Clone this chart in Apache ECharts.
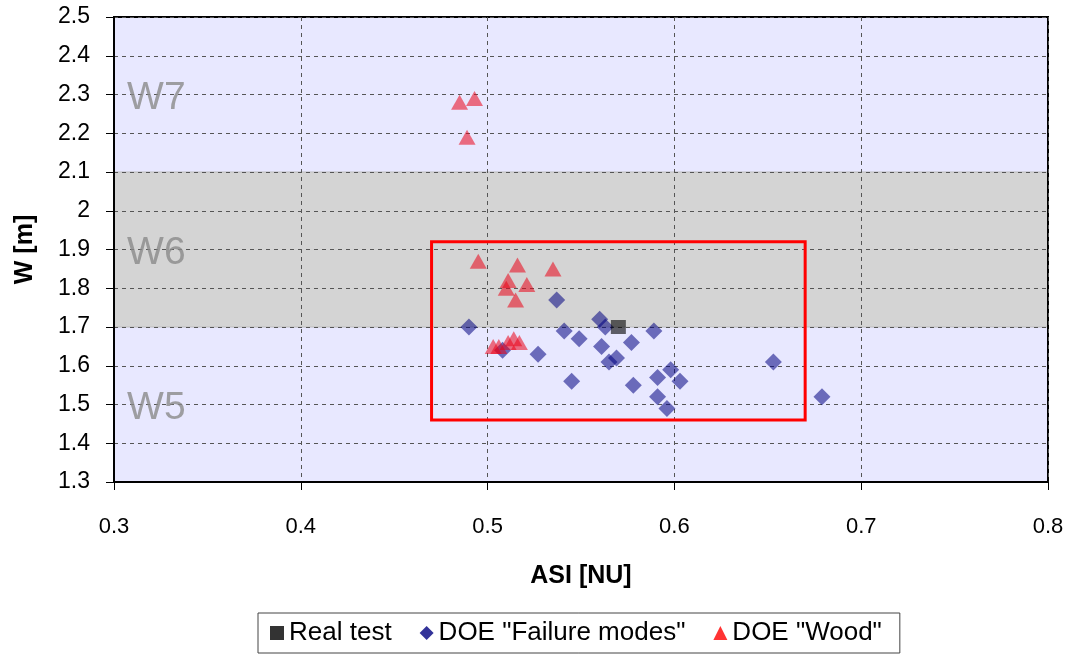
<!DOCTYPE html>
<html>
<head>
<meta charset="utf-8">
<script src="https://cdn.jsdelivr.net/npm/echarts@6/dist/echarts.min.js"></script>
<style>
html,body{margin:0;padding:0;background:#fff;}
#chart{width:1073px;height:656px;}
</style>
</head>
<body>
<div id="chart"></div>
<script>
// ---- Data ----
const realTestX = [0.570];
const realTestY = [1.70];

const failureX = [0.490, 0.508, 0.527, 0.537, 0.541, 0.545, 0.549, 0.560, 0.561, 0.563, 0.565, 0.569, 0.577, 0.578, 0.589, 0.591, 0.591, 0.596, 0.598, 0.603, 0.653, 0.679];
const failureY = [1.70, 1.64, 1.63, 1.77, 1.69, 1.56, 1.67, 1.72, 1.65, 1.70, 1.61, 1.62, 1.66, 1.55, 1.69, 1.57, 1.52, 1.49, 1.59, 1.56, 1.61, 1.52];

const woodX = [0.485, 0.493, 0.489, 0.495, 0.516, 0.535, 0.511, 0.521, 0.510, 0.515, 0.503, 0.506, 0.511, 0.514, 0.517];
const woodY = [2.28, 2.29, 2.19, 1.87, 1.86, 1.85, 1.82, 1.81, 1.80, 1.77, 1.65, 1.65, 1.66, 1.67, 1.66];

const seriesNames = ['Real test', 'DOE "Failure modes"', 'DOE "Wood"'];

const zoneNames = ['W7', 'W6', 'W5'];
const zoneCenters = [2.3, 1.9, 1.5];
const zoneLabelX = 0.307;
const grayBand = [1.7, 2.1];
const focusBox = { x: [0.47, 0.67], y: [1.46, 1.92] };

const xTicks = { min: 0.3, max: 0.8, interval: 0.1 };
const yTicks = { min: 1.3, max: 2.5, interval: 0.1 };

function pairs(xs, ys) { return xs.map((x, i) => [x, ys[i]]); }

const FONT = 'Liberation Sans, Arial, sans-serif';

const chart = echarts.init(document.getElementById('chart'), null, { renderer: 'canvas' });

chart.setOption({
  animation: false,
  backgroundColor: '#ffffff',
  grid: {
    left: 114, right: 25, top: 17, bottom: 174,
    show: true, borderColor: '#000', borderWidth: 2, backgroundColor: 'transparent'
  },
  xAxis: {
    type: 'value', min: xTicks.min, max: xTicks.max, interval: xTicks.interval,
    name: 'ASI [NU]', nameLocation: 'middle', nameGap: 82,
    nameTextStyle: { fontFamily: FONT, fontSize: 25, fontWeight: 'bold', color: '#000' },
    axisLine: { show: true, lineStyle: { color: '#000', width: 2 } },
    axisTick: { show: true, length: 8, inside: false, lineStyle: { color: '#000', width: 1 } },
    axisLabel: { margin: 34, fontFamily: FONT, fontSize: 22, color: '#000' },
    splitLine: { show: true, lineStyle: { color: '#555', type: [4, 4], width: 1 } }
  },
  yAxis: {
    type: 'value', min: yTicks.min, max: yTicks.max, interval: yTicks.interval,
    name: 'W [m]', nameLocation: 'middle', nameGap: 76, nameRotate: 90,
    nameTextStyle: { fontFamily: FONT, fontSize: 25, fontWeight: 'bold', color: '#000' },
    axisLine: { show: true, lineStyle: { color: '#000', width: 2 } },
    axisTick: { show: true, length: 8, inside: false, lineStyle: { color: '#000', width: 1 } },
    axisLabel: { margin: 24, fontFamily: FONT, fontSize: 23, color: '#000' },
    splitLine: { show: true, lineStyle: { color: '#555', type: [4, 4], width: 1 } }
  },
  legend: {
    data: [
      { name: seriesNames[0], icon: 'rect', itemStyle: { color: '#000' } },
      { name: seriesNames[1], icon: 'diamond', itemStyle: { color: '#000080' } },
      { name: seriesNames[2], icon: 'triangle', itemStyle: { color: '#ff0000' } }
    ],
    left: 258, top: 613,
    orient: 'horizontal',
    itemWidth: 14, itemHeight: 14, itemGap: 28,
    padding: [7, 18, 7, 12],
    borderColor: '#444', borderWidth: 1, backgroundColor: '#fff',
    textStyle: { fontFamily: FONT, fontSize: 26, color: '#000' }
  },
  series: [
    {
      name: 'background', type: 'scatter', data: [], z: -1, silent: true,
      markArea: {
        silent: true, z: -1,
        data: [
          [{ xAxis: xTicks.min, yAxis: yTicks.min, itemStyle: { color: '#E8E8FF', borderColor: '#c8c8d4', borderWidth: 1 } },
           { xAxis: xTicks.max, yAxis: yTicks.max }],
          [{ xAxis: xTicks.min, yAxis: grayBand[0], itemStyle: { color: '#D4D4D4', borderColor: '#bdbdbd', borderWidth: 1 } },
           { xAxis: xTicks.max, yAxis: grayBand[1] }]
        ]
      }
    },
    {
      name: 'zones', type: 'scatter', symbolSize: 0, silent: true, z: 1,
      data: zoneNames.map((n, i) => ({ name: n, value: [zoneLabelX, zoneCenters[i]] })),
      label: {
        show: true, position: 'right', distance: 0, offset: [0, 4], formatter: '{b}',
        fontFamily: FONT, fontSize: 39, color: '#8a8a8a'
      }
    },
    {
      name: 'box', type: 'scatter', data: [], z: 2, silent: true,
      markArea: {
        silent: true, z: 2,
        itemStyle: { color: 'rgba(0,0,0,0)', borderColor: '#ff0000', borderWidth: 3 },
        data: [[{ xAxis: focusBox.x[0], yAxis: focusBox.y[1] }, { xAxis: focusBox.x[1], yAxis: focusBox.y[0] }]]
      }
    },
    {
      name: seriesNames[1], type: 'scatter', z: 3,
      symbol: 'diamond', symbolSize: 17,
      itemStyle: { color: 'rgba(0,0,128,0.68)' },
      data: pairs(failureX, failureY)
    },
    {
      name: seriesNames[0], type: 'scatter', z: 4,
      symbol: 'rect', symbolSize: [15, 14],
      itemStyle: { color: 'rgba(0,0,0,0.75)' },
      data: pairs(realTestX, realTestY)
    },
    {
      name: seriesNames[2], type: 'scatter', z: 5,
      symbol: 'triangle', symbolSize: [17, 15],
      itemStyle: { color: 'rgba(235,0,20,0.68)' },
      data: pairs(woodX, woodY)
    }
  ]
});
</script>
</body>
</html>
